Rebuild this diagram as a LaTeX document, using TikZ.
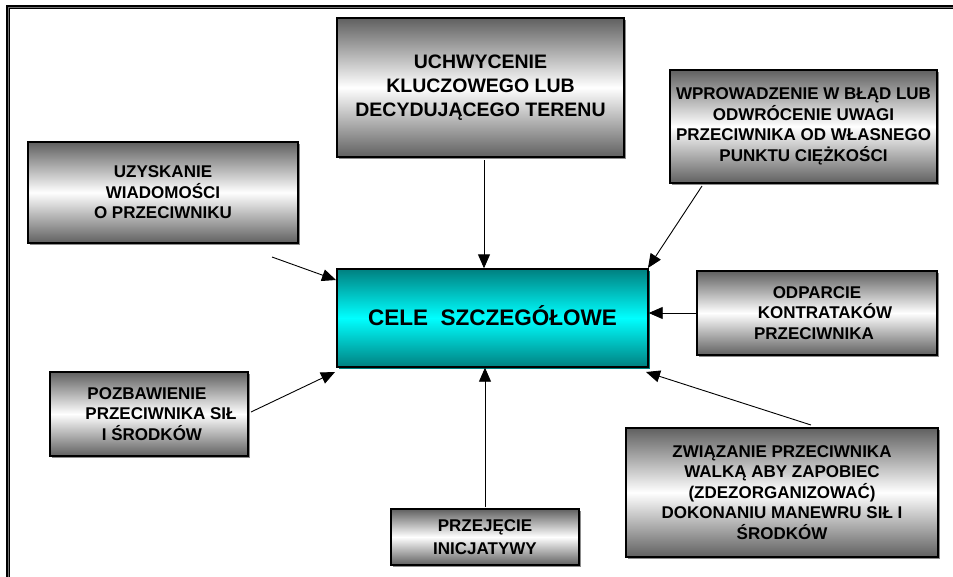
\documentclass[tikz,border=0pt]{standalone}
\usepackage{fontspec}
\setmainfont{Liberation Sans}
\usetikzlibrary{arrows.meta,shadows,calc}

\definecolor{boxdark}{RGB}{96,96,96}
\definecolor{tealdark}{RGB}{0,128,128}
\definecolor{cyanmid}{RGB}{0,255,255}

\tikzset{
  greybox/.style={draw=black, line width=1.2pt, inner sep=0pt, align=center,
    top color=boxdark, bottom color=boxdark, middle color=white,
    general shadow={shadow xshift=2pt, shadow yshift=-2pt, fill=black!45},
    font=\bfseries\fontsize{17}{20.5}\selectfont},
  goalbox/.style={draw=black, line width=1.4pt, inner sep=0pt, align=center,
    top color=tealdark, bottom color=tealdark, middle color=cyanmid,
    general shadow={shadow xshift=2pt, shadow yshift=-2pt, fill=tealdark},
    font=\bfseries\fontsize{22.5}{26}\selectfont},
  arr/.style={draw=black, line width=0.9pt, -{Triangle[length=14pt,width=12pt]}},
  frameline/.style={line width=1.1pt, double=black!55, double distance=1pt}
}

\begin{document}
\begin{tikzpicture}[x=1pt,y=-1pt]
  \useasboundingbox[fill=white] (0,0) rectangle (953,576);

  % outer frame (runs off the right and bottom edges)
  \draw[frameline] (960,7) -- (8,7) -- (8,585);

  % central goal
  \node[goalbox, minimum width=311pt, minimum height=98pt] (cele) at (492.5,318)
    {\raisebox{4pt}{CELE\ \ SZCZEG\'O\L{}OWE}};

  % surrounding objectives
  \node[greybox, minimum width=287pt, minimum height=139pt,
        font=\bfseries\fontsize{19.5}{24}\selectfont] (teren) at (480.5,87.5)
    {\raisebox{6pt}{\begin{tabular}{@{}c@{}}UCHWYCENIE\\KLUCZOWEGO LUB\\DECYDUJĄCEGO TERENU\end{tabular}}};
  \node[greybox, minimum width=267pt, minimum height=113pt] (blad) at (803.5,126.5)
    {WPROWADZENIE W BŁĄD LUB\\ODWRÓCENIE UWAGI\\PRZECIWNIKA OD WŁASNEGO\\PUNKTU CIĘŻKOŚCI};
  \node[greybox, minimum width=270pt, minimum height=101pt] (wiad) at (163,192.5)
    {UZYSKANIE\\WIADOMOŚCI\\O PRZECIWNIKU};
  \node[greybox, minimum width=240pt, minimum height=84pt] (kontr) at (817,313)
    {ODPARCIE\\\hspace*{16pt}KONTRATAKÓW\\\hspace*{-6pt}PRZECIWNIKA};
  \node[greybox, minimum width=198pt, minimum height=84pt] (sil) at (149,414)
    {\hspace*{-4pt}POZBAWIENIE\\\hspace*{24pt}PRZECIWNIKA SIŁ\\\hspace*{6pt}I ŚRODKÓW};
  \node[greybox, minimum width=312pt, minimum height=129pt] (walka) at (782,492.5)
    {ZWIĄZANIE PRZECIWNIKA\\WALKĄ ABY ZAPOBIEC\\(ZDEZORGANIZOWAĆ)\\DOKONANIU MANEWRU SIŁ I\\ŚRODKÓW};
  \node[greybox, minimum width=188pt, minimum height=56pt,
        font=\bfseries\fontsize{17}{23}\selectfont] (inic) at (485,537)
    {PRZEJĘCIE\\INICJATYWY};

  % connector start points
  \coordinate (s-teren) at (484,160);
  \coordinate (s-blad)  at (702,186);
  \coordinate (s-wiad)  at (272,257);
  \coordinate (s-sil)   at (251,412);
  \coordinate (s-walka) at (811,425);
  \coordinate (s-inic)  at (485,507);
  \coordinate (e-wiad)  at (336,280);
  \coordinate (e-sil)   at (335,372);
  \coordinate (e-walka) at (646,372);
  \coordinate (e-blad)  at (648,268);

  % connectors into the central goal
  \draw[arr] (s-teren) -- (s-teren |- cele.north);
  \draw[arr] (s-blad) -- (e-blad);
  \draw[arr] (s-wiad) -- (e-wiad);
  \draw[arr] (kontr.west) -- (kontr.west -| cele.east);
  \draw[arr] (s-walka) -- (e-walka);
  \draw[arr] (s-inic) -- (s-inic |- cele.south);
  \draw[arr] (s-sil) -- (e-sil);
\end{tikzpicture}
\end{document}
